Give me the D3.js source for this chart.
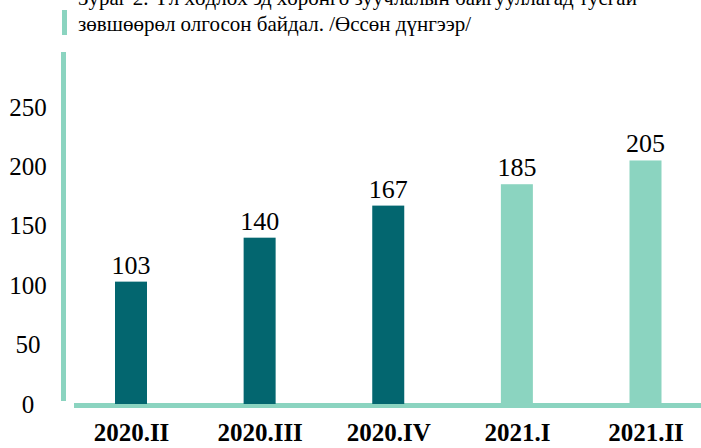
<!DOCTYPE html>
<html>
<head>
<meta charset="utf-8">
<script src="https://cdn.jsdelivr.net/npm/d3@7"></script>
<style>
  body { margin: 0; background: #fff; }
  text { font-family: "Liberation Serif", "Times New Roman", serif; fill: #000; }
</style>
</head>
<body>
<script>
"use strict";
const categories = ["2020.II", "2020.III", "2020.IV", "2021.I", "2021.II"];
const values = [103, 140, 167, 185, 205];
const yTicks = [0, 50, 100, 150, 200, 250];
const captionLines = [
    "Зураг 2. Үл хөдлөх эд хөрөнгө зуучлалын байгууллагад тусгай",
    "зөвшөөрөл олгосон байдал. /Өссөн дүнгээр/"
];

const width = 701;
const height = 448;
const dark = "#03666f";
const light = "#8bd4c0";

const svg = d3.select("body")
    .append("svg")
    .attr("width", width)
    .attr("height", height);

// scales
const xScale = d3.scalePoint()
    .domain(categories)
    .range([131, 645.5]);

const yScale = d3.scaleLinear()
    .domain([0, 250])
    .range([404, 107]);

// caption (top line is cut off by the frame, as in the source)
svg.append("rect")
    .attr("x", 62).attr("y", 10)
    .attr("width", 5).attr("height", 25)
    .attr("fill", light);

svg.selectAll(".caption")
    .data(captionLines)
    .enter().append("text")
    .attr("class", "caption")
    .attr("x", 78)
    .attr("y", (d, i) => 5 + i * 26)
    .attr("font-size", 21)
    .text(d => d);

// axis lines
svg.append("rect")
    .attr("x", 61).attr("y", 52)
    .attr("width", 5).attr("height", 349)
    .attr("fill", light);

svg.append("rect")
    .attr("x", 74).attr("y", 403)
    .attr("width", width - 74).attr("height", 5)
    .attr("fill", light);

// y-axis labels
const yAxis = svg.append("g")
    .attr("transform", "translate(28,0)")
    .call(d3.axisLeft(yScale).tickValues(yTicks).tickSize(0).tickPadding(0));
yAxis.select(".domain").remove();
yAxis.selectAll("text")
    .attr("text-anchor", "middle")
    .attr("font-family", "Liberation Serif, serif")
    .attr("font-size", 25)
    .attr("fill", "#000");

// x-axis labels
const xAxis = svg.append("g")
    .attr("transform", "translate(0,404)")
    .call(d3.axisBottom(xScale).tickSize(0).tickPadding(0));
xAxis.select(".domain").remove();
xAxis.selectAll("text")
    .attr("dy", null)
    .attr("y", 37)
    .attr("font-family", "Liberation Serif, serif")
    .attr("font-weight", "bold")
    .attr("font-size", 25)
    .attr("fill", "#000");

// bars
const barWidth = 32;
svg.selectAll(".bar")
    .data(values)
    .enter().append("rect")
    .attr("class", "bar")
    .attr("x", (d, i) => xScale(categories[i]) - barWidth / 2)
    .attr("y", d => yScale(d))
    .attr("width", barWidth)
    .attr("height", d => yScale(0) - yScale(d))
    .attr("fill", (d, i) => i < 3 ? dark : light);

// value labels
svg.selectAll(".value")
    .data(values)
    .enter().append("text")
    .attr("class", "value")
    .attr("x", (d, i) => xScale(categories[i]))
    .attr("y", d => yScale(d) - 8)
    .attr("text-anchor", "middle")
    .attr("font-size", 26)
    .text(d => d);
</script>
</body>
</html>
